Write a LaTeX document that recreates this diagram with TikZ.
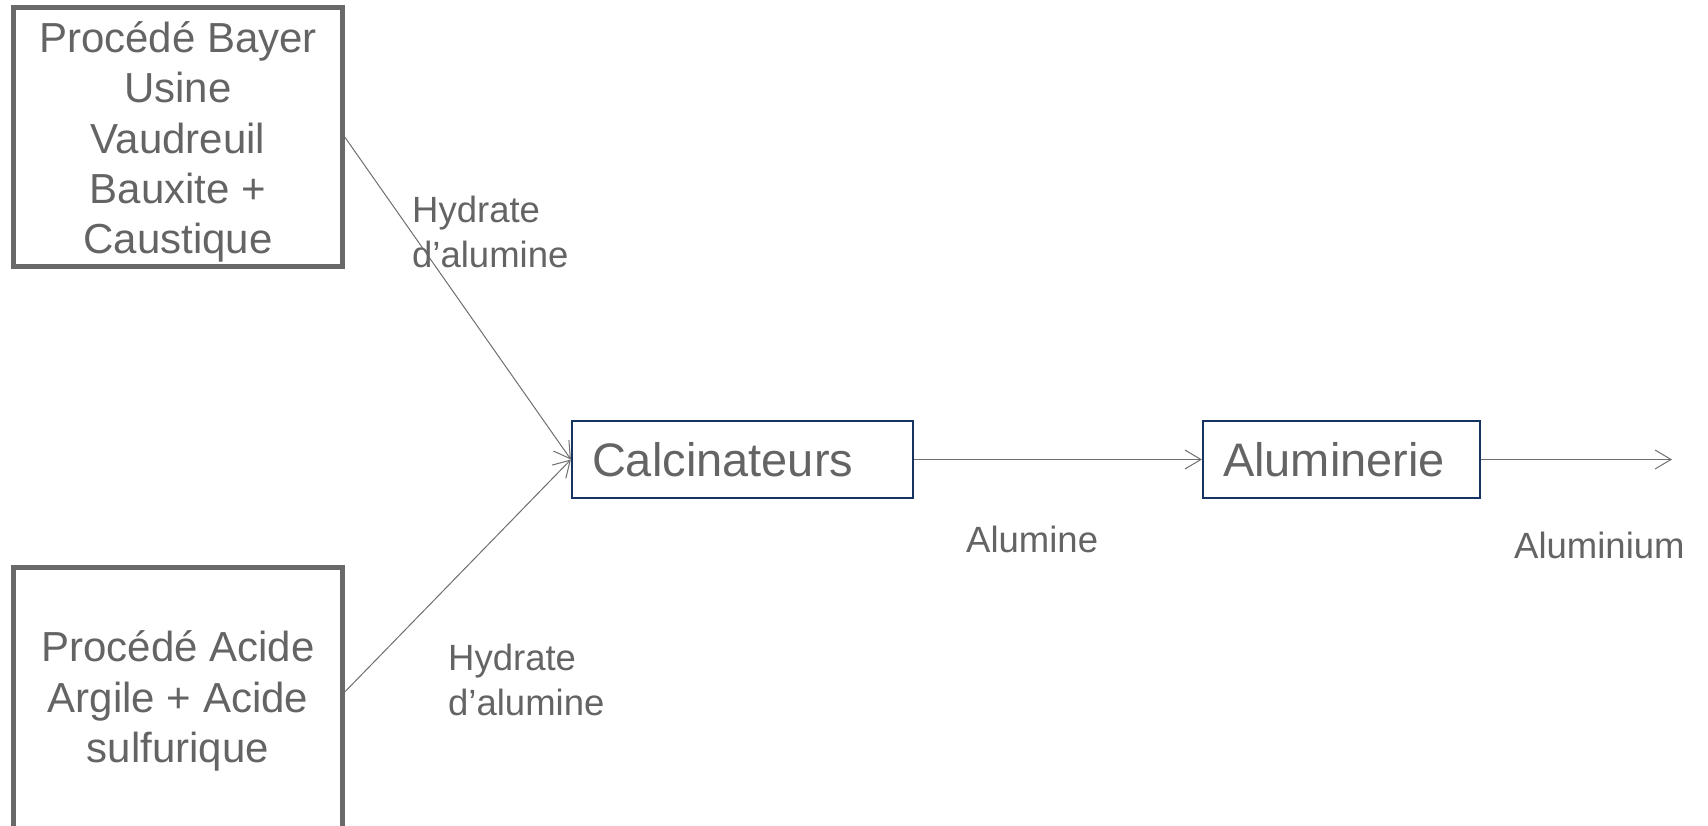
\documentclass[tikz,border=0pt]{standalone}
\usepackage{fontspec}
\setmainfont{Liberation Sans}
\usetikzlibrary{arrows.meta}
\definecolor{txtgray}{RGB}{100,100,100}
\definecolor{boxgray}{RGB}{105,105,105}
\definecolor{linegray}{RGB}{110,110,110}
\definecolor{navy}{RGB}{22,52,98}
\tikzset{
  bigbox/.style={draw=boxgray, line width=4.5pt, rectangle, inner sep=0pt, align=center,
    text=txtgray, font=\fontsize{42}{50.4}\selectfont},
  stagebox/.style={draw=navy, line width=2.2pt, rectangle, inner xsep=20pt, inner ysep=0pt,
    align=left, text=txtgray, font=\fontsize{47}{56}\selectfont},
  flowlabel/.style={inner sep=0pt, align=left, text=txtgray, font=\fontsize{36.5}{44.5}\selectfont},
  flow/.style={draw=linegray, line width=1pt, -{Straight Barb[length=16pt,width=19pt]}},
  link/.style={draw=linegray, line width=1pt}
}
\begin{document}
\begin{tikzpicture}[x=1pt,y=-1pt]
\useasboundingbox (0,0) rectangle (1708,826);
\clip (0,0) rectangle (1708,826);
% source boxes
\node[bigbox, minimum width=329pt, minimum height=259pt] (b1) at (178,137)
  {\rule{0pt}{41pt}Procédé Bayer\\Usine\\Vaudreuil\\Bauxite +\\Caustique};
\node[bigbox, minimum width=329pt, minimum height=267pt] (b2) at (178,701)
  {Procédé Acide\\Argile + Acide\\sulfurique};
% stages
\node[stagebox, text width=301pt, minimum height=77pt] (calc) at (742.5,459.5) {Calcinateurs};
\node[stagebox, text width=237pt, minimum height=77pt] (alu) at (1341.5,459.5) {Aluminerie};
% coordinates
\coordinate (b2out) at ([yshift=9pt]b2.east);
\coordinate (end) at (1672,459.5);
% connectors
\draw[flow] (b1.east) -- (calc.west);
\draw[flow] (b2out) -- (calc.west);
\draw[flow] (calc.east) -- (alu.west);
\draw[flow] (alu.east) -- (end);
% labels
\node[flowlabel, anchor=north west] (l1) at (412,195.9) {Hydrate\\d’alumine};
\node[flowlabel, anchor=north west] (l2) at (448,643.9) {Hydrate\\d’alumine};
\node[flowlabel, anchor=base west] (l3) at (966,552) {Alumine};
\node[flowlabel, anchor=base west] (l4) at (1514,558) {Aluminium};
\end{tikzpicture}
\end{document}
